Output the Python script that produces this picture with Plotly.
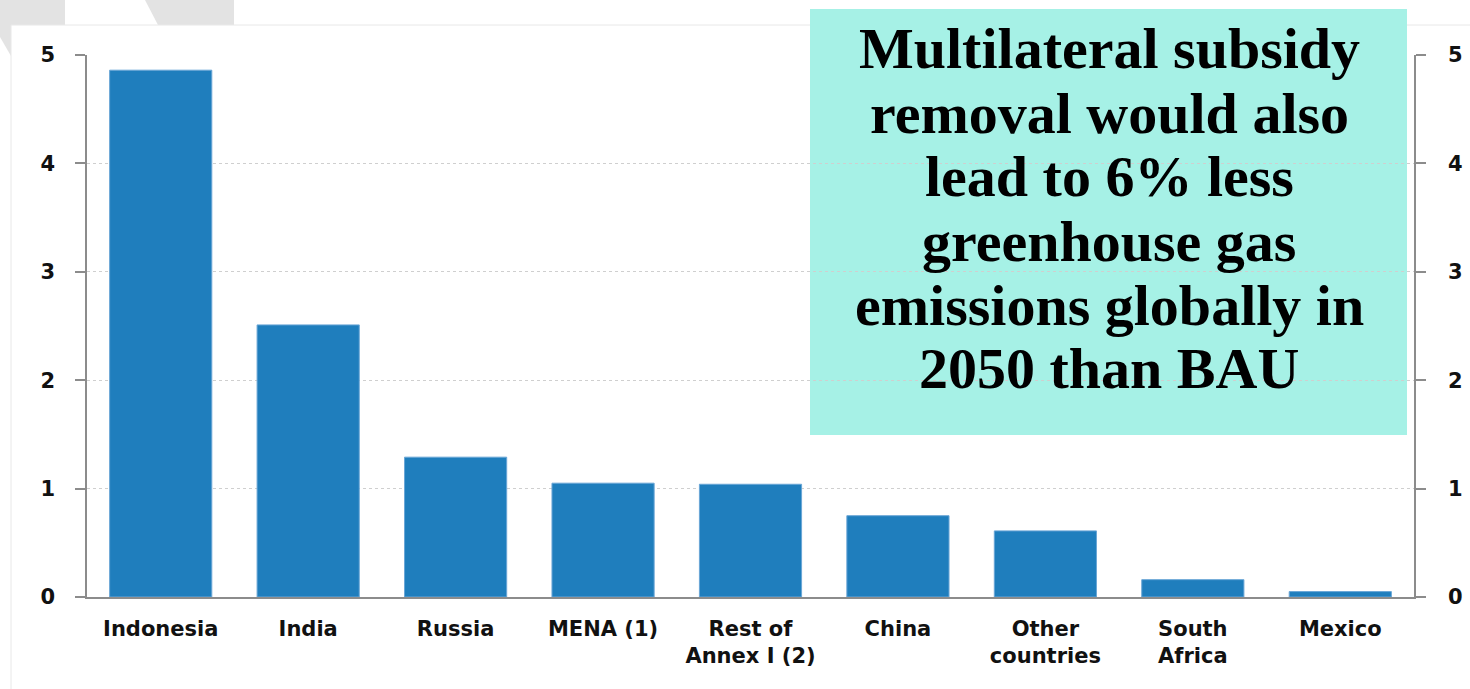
import plotly.graph_objects as go

# Regional contribution, per cent
regions = ["Indonesia", "India", "Russia", "MENA (1)", "Rest of<br>Annex I (2)",
           "China", "Other<br>countries", "South<br>Africa", "Mexico"]
values = [4.86, 2.51, 1.29, 1.05, 1.04, 0.75, 0.61, 0.16, 0.05]
y_ticks = [0, 1, 2, 3, 4, 5]

callout_lines = [
    "Multilateral subsidy",
    "removal would also",
    "lead to 6% less",
    "greenhouse gas",
    "emissions globally in",
    "2050 than BAU",
]

W, H = 1470, 689
L, R, T, B = 87, 1414, 55, 597  # plot area edges in pixels


def px(x):
    return (x - L) / (R - L)


def py(y):
    return (B - y) / (B - T)


BAR = "#1f7ebd"
AXIS = "#8c8c8c"
GRID = "#cfcfcf"
TICKFONT = dict(family="DejaVu Sans", size=21, color="#111111", weight="bold")

fig = go.Figure()
fig.add_trace(go.Bar(
    x=regions, y=values,
    marker=dict(color=BAR, line=dict(color="#6aa6d6", width=1)),
    hoverinfo="skip",
))
# invisible trace so the right-hand axis is drawn
fig.add_trace(go.Scatter(
    x=regions, y=values, yaxis="y2", mode="markers",
    marker=dict(opacity=0), hoverinfo="skip", showlegend=False,
))

shapes = []
# slide background pieces, card and callout box
shapes.append(dict(type="path", xref="paper", yref="paper", layer="below",
                   path=f"M {px(0)},{py(0)} L {px(65)},{py(0)} L {px(65)},{py(60)} "
                        f"L {px(11)},{py(56)} L {px(0)},{py(37)} Z",
                   fillcolor="#e3e3e3", line=dict(width=0)))
shapes.append(dict(type="path", xref="paper", yref="paper", layer="below",
                   path=f"M {px(145)},{py(0)} L {px(234)},{py(0)} L {px(234)},{py(25)} "
                        f"L {px(158)},{py(25)} Z",
                   fillcolor="#e3e3e3", line=dict(width=0)))
shapes.append(dict(type="rect", xref="paper", yref="paper", layer="below",
                   x0=px(11), x1=px(1480), y0=py(25), y1=py(700),
                   fillcolor="white", line=dict(color="#e8e8e8", width=1)))
shapes.append(dict(type="rect", xref="paper", yref="paper", layer="below",
                   x0=px(810), x1=px(1407), y0=py(9), y1=py(435),
                   fillcolor="#a6f1e6", line=dict(width=0)))

annotations = []
for i, line in enumerate(callout_lines):
    annotations.append(dict(
        xref="paper", yref="paper", x=px(1109), y=py(49 + i * 64.0),
        xanchor="center", yanchor="middle", showarrow=False, text=line,
        font=dict(family="Liberation Serif", size=58, color="black", weight="bold"),
    ))

fig.update_layout(
    width=W, height=H, autosize=False,
    margin=dict(l=L, r=W - R, t=T, b=H - B, pad=0, autoexpand=False),
    paper_bgcolor="white", plot_bgcolor="rgba(0,0,0,0)",
    showlegend=False, bargap=0.307,
    shapes=shapes, annotations=annotations,
    xaxis=dict(
        showline=True, linecolor=AXIS, linewidth=1.5, ticks="", automargin=False,
        tickfont=dict(family="DejaVu Sans", size=21, color="#111111", weight="bold"),
        ticklabelstandoff=12, range=[-0.5, 8.5], fixedrange=True,
    ),
    yaxis=dict(
        range=[0, 5], tickvals=y_ticks, ticks="outside", ticklen=10, automargin=False,
        tickcolor=AXIS, tickwidth=1.5, showline=True, linecolor=AXIS, linewidth=1.5,
        showgrid=True, gridcolor=GRID, griddash="dot", gridwidth=1,
        zeroline=False, tickfont=TICKFONT, ticklabelstandoff=16,
    ),
    yaxis2=dict(
        range=[0, 5], tickvals=y_ticks, overlaying="y", side="right", automargin=False,
        ticks="outside", ticklen=10, tickcolor=AXIS, tickwidth=1.5,
        showline=True, linecolor=AXIS, linewidth=1.5, showgrid=False,
        zeroline=False, tickfont=TICKFONT, ticklabelstandoff=18,
    ),
)

fig.write_html("out.html", include_plotlyjs=True, config={"displayModeBar": False})
